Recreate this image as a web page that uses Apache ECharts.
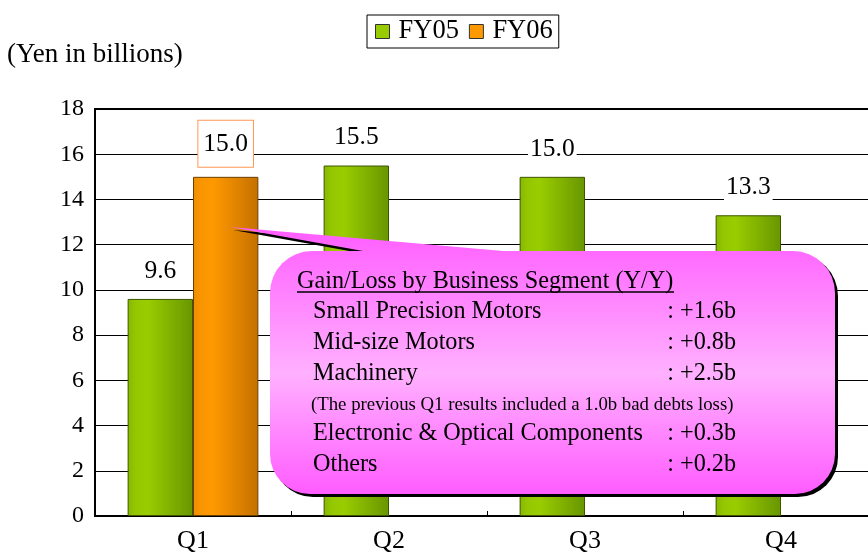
<!DOCTYPE html>
<html>
<head>
<meta charset="utf-8">
<script src="https://cdn.jsdelivr.net/npm/echarts/dist/echarts.min.js"></script>
<style>html,body{margin:0;padding:0;background:#fff;}#c{width:868px;height:555px;}</style>
</head>
<body>
<div id="c"></div>
<script>
const categories = ['Q1', 'Q2', 'Q3', 'Q4'];
const fy05 = [9.6, 15.5, 15.0, 13.3];
const fy06 = [15.0, null, null, null];
const seriesNames = ['FY05', 'FY06'];
const unitLabel = '(Yen in billions)';
const calloutTitle = 'Gain/Loss by Business Segment (Y/Y)';
const segNames = ['Small Precision Motors', 'Mid-size Motors', 'Machinery',
  '(The previous Q1 results included a 1.0b bad debts loss)',
  'Electronic & Optical Components', 'Others'];
const segValues = [': +1.6b', ': +0.8b', ': +2.5b', '', ': +0.3b', ': +0.2b'];

const FONT = "'Liberation Serif', 'Times New Roman', serif";
const chart = echarts.init(document.getElementById('c'), null, {renderer: 'canvas'});

const greenGrad = new echarts.graphic.LinearGradient(0, 0, 1, 0, [
  {offset: 0, color: '#86B800'}, {offset: 0.12, color: '#94C700'},
  {offset: 0.3, color: '#9ACD00'}, {offset: 1, color: '#679600'}]);
const orangeGrad = new echarts.graphic.LinearGradient(0, 0, 1, 0, [
  {offset: 0, color: '#EE8E00'}, {offset: 0.12, color: '#F89500'},
  {offset: 0.3, color: '#FF9900'}, {offset: 1, color: '#C47000'}]);
const pinkGrad = new echarts.graphic.LinearGradient(0, 227, 0, 494, [
  {offset: 0, color: '#FF5CFF'}, {offset: 0.55, color: '#FFB0FF'},
  {offset: 1, color: '#FF5CFF'}], true);

// callout shapes
const pointer = [[230, 227], [503, 251], [503, 270], [363, 270], [363, 251]];
const box = {x: 270, y: 251, width: 565, height: 243, r: [42, 42, 40, 40]};
const sh = 3;
const graphics = [
  {type: 'polygon', z: 100, shape: {points: pointer.map(p => [p[0] + sh, p[1] + sh])}, style: {fill: '#000'}},
  {type: 'rect', z: 100, shape: Object.assign({}, box, {x: box.x + sh, y: box.y + sh}), style: {fill: '#000'}},
  {type: 'polygon', z: 101, shape: {points: pointer}, style: {fill: pinkGrad}},
  {type: 'rect', z: 101, shape: box, style: {fill: pinkGrad}},
  {type: 'text', z: 102, x: 297, y: 282, style: {text: calloutTitle, font: '24.2px ' + FONT, fill: '#000', textAlign: 'left', textVerticalAlign: 'middle'}},
  {type: 'line', z: 102, shape: {x1: 297, y1: 292, x2: 674, y2: 292}, style: {stroke: '#000', lineWidth: 1.5}}
];
const lineY = [312, 343, 374, 405, 434, 465];
segNames.forEach((n, i) => {
  const small = segValues[i] === '';
  graphics.push({type: 'text', z: 102, x: small ? 311 : 313, y: lineY[i],
    style: {text: n, font: (small ? '18.8px ' : '24.2px ') + FONT, fill: '#000', textAlign: 'left', textVerticalAlign: 'middle'}});
  if (!small) graphics.push({type: 'text', z: 102, x: 736, y: lineY[i],
    style: {text: segValues[i], font: '24.2px ' + FONT, fill: '#000', textAlign: 'right', textVerticalAlign: 'middle'}});
});

chart.setOption({
  animation: false,
  textStyle: {fontFamily: FONT, color: '#000'},
  title: {text: unitLabel, left: 7, top: 41, padding: 0,
    textStyle: {fontFamily: FONT, fontSize: 27, fontWeight: 'normal', color: '#000'}},
  legend: {
    left: 367, top: 15, padding: [3, 6, 3, 8], itemGap: 10,
    borderColor: '#000', borderWidth: 1, itemWidth: 14, itemHeight: 14,
    icon: 'rect',
    textStyle: {fontFamily: FONT, fontSize: 26.5, color: '#000', padding: [0, 0, 0, 4]},
    data: [
      {name: seriesNames[0], itemStyle: {color: '#99CC00', borderColor: '#333', borderWidth: 1}},
      {name: seriesNames[1], itemStyle: {color: '#FF9900', borderColor: '#333', borderWidth: 1}}
    ]
  },
  grid: {left: 95, top: 109, width: 784, height: 407, outerBoundsMode: 'none', containLabel: false,
    show: true, borderColor: '#000', borderWidth: 2, backgroundColor: 'transparent'},
  xAxis: {
    type: 'category', data: categories,
    axisLine: {lineStyle: {color: '#000', width: 2}},
    axisTick: {show: true, inside: true, length: 5, lineStyle: {color: '#000'}},
    axisLabel: {fontFamily: FONT, fontSize: 26, color: '#000', margin: 12}
  },
  yAxis: {
    type: 'value', min: 0, max: 18, interval: 2,
    axisLine: {show: true, lineStyle: {color: '#000', width: 2}},
    axisTick: {show: false},
    splitLine: {lineStyle: {color: '#000', width: 1}},
    axisLabel: {fontFamily: FONT, fontSize: 24, color: '#000', margin: 11}
  },
  series: [
    {name: seriesNames[0], type: 'bar', data: fy05, barGap: '0%', barCategoryGap: '33.3%',
      itemStyle: {color: greenGrad, borderColor: '#3F5500', borderWidth: 1},
      label: {show: true, position: 'top', distance: 14, fontFamily: FONT, fontSize: 25.5, color: '#000',
        backgroundColor: '#fff', padding: [1, 2], formatter: p => p.value.toFixed(1)}},
    {name: seriesNames[1], type: 'bar', data: fy06,
      itemStyle: {color: orangeGrad, borderColor: '#6A3F00', borderWidth: 1},
      label: {show: true, position: 'top', distance: 10, fontFamily: FONT, fontSize: 25.5, color: '#000',
        backgroundColor: '#fff', borderColor: '#FF9955', borderWidth: 1, padding: [10, 5],
        formatter: p => p.value == null ? '' : p.value.toFixed(1)}}
  ],
  graphic: graphics
});
</script>
</body>
</html>
